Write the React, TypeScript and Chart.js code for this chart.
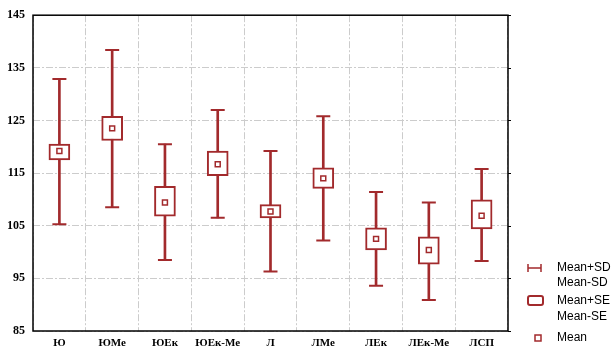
import React, { useEffect, useRef } from "react";
import { Chart, registerables } from "chart.js";

Chart.register(...registerables);

const categories = ["Ю", "ЮМе", "ЮЕк", "ЮЕк-Ме", "Л", "ЛМе", "ЛЕк", "ЛЕк-Ме", "ЛСП"];
const means = [119.2, 123.5, 109.4, 116.7, 107.7, 114.0, 102.5, 100.4, 106.9];
const seLow = [117.5, 121.2, 106.8, 114.5, 106.5, 112.1, 100.4, 97.7, 104.4];
const seHigh = [120.5, 125.8, 112.5, 119.2, 109.0, 116.0, 104.6, 102.9, 109.9];
const sdLow = [105.3, 108.5, 98.5, 106.5, 96.3, 102.2, 93.6, 90.9, 98.3];
const sdHigh = [132.9, 138.4, 120.5, 127.0, 119.2, 125.8, 111.4, 109.4, 115.8];
const yMin = 85;
const yMax = 145;
const yStep = 10;
const legendItems = ["Mean+SD", "Mean-SD", "Mean+SE", "Mean-SE", "Mean"];

const RED = "#a22a2c";
const GRID = "#cccccc";

const framePlugin = {
  id: "frame",
  afterDraw(chart: any) {
    const { ctx, chartArea } = chart;
    const { left, top, right, bottom } = chartArea;
    ctx.save();
    ctx.strokeStyle = "#000";
    ctx.lineWidth = 1.5;
    ctx.strokeRect(left, top, right - left, bottom - top);
    const y = chart.scales.y;
    ctx.lineWidth = 1;
    y.ticks.forEach((t: any) => {
      const py = Math.round(y.getPixelForValue(t.value)) + 0.5;
      ctx.beginPath();
      ctx.moveTo(right, py);
      ctx.lineTo(right + 3, py);
      ctx.stroke();
    });
    ctx.restore();

    ctx.save();
    ctx.font = "12px 'Liberation Sans', Arial, sans-serif";
    ctx.fillStyle = "#000";
    ctx.textBaseline = "middle";
    ctx.textAlign = "left";
    const tx = 557;
    const ys = [268, 283, 301, 317, 338];
    legendItems.forEach((t, i) => ctx.fillText(t, tx, ys[i]));
    ctx.strokeStyle = RED;
    ctx.lineWidth = 1.5;
    ctx.beginPath();
    ctx.moveTo(528, 264); ctx.lineTo(528, 272);
    ctx.moveTo(541, 264); ctx.lineTo(541, 272);
    ctx.moveTo(528, 268); ctx.lineTo(541, 268);
    ctx.stroke();
    ctx.lineWidth = 2;
    ctx.beginPath();
    ctx.roundRect(528, 296, 15, 9, 2);
    ctx.stroke();
    ctx.lineWidth = 1.5;
    ctx.strokeRect(535, 335, 6, 6);
    ctx.restore();
  },
};

export default function App() {
  const ref = useRef<HTMLCanvasElement>(null);
  useEffect(() => {
    if (!ref.current) return;
    const chart = new Chart(ref.current, {
      type: "bar",
      data: {
        labels: categories,
        datasets: [
          {
            type: "line",
            label: "Mean",
            data: means,
            showLine: false,
            pointStyle: "rect",
            pointRadius: 3.5,
            pointBorderWidth: 1.5,
            pointBackgroundColor: "#fff",
            pointBorderColor: RED,
            borderColor: RED,
            order: 0,
          } as any,
          {
            type: "bar",
            label: "SE",
            data: seLow.map((l, i) => [l, seHigh[i]]),
            backgroundColor: "#fff",
            borderColor: RED,
            borderWidth: 2,
            borderSkipped: false,
            barThickness: 21,
            grouped: false,
            order: 1,
          } as any,
          {
            type: "bar",
            label: "SD",
            data: sdLow.map((l, i) => [l, sdHigh[i]]),
            backgroundColor: RED,
            borderWidth: 0,
            barThickness: 2,
            grouped: false,
            order: 2,
          } as any,
          {
            type: "line",
            label: "SD+",
            data: sdHigh,
            showLine: false,
            pointStyle: "line",
            pointRadius: 7,
            pointBorderWidth: 2,
            pointBorderColor: RED,
            borderColor: RED,
            order: 2,
          } as any,
          {
            type: "line",
            label: "SD-",
            data: sdLow,
            showLine: false,
            pointStyle: "line",
            pointRadius: 7,
            pointBorderWidth: 2,
            pointBorderColor: RED,
            borderColor: RED,
            order: 2,
          } as any,
        ],
      },
      options: {
        responsive: false,
        animation: false,
        events: [],
        layout: { padding: { left: 0, top: 15, right: 104, bottom: 0 } },
        plugins: { legend: { display: false }, tooltip: { enabled: false } },
        scales: {
          x: {
            offset: true,
            grid: { offset: true, color: GRID, lineWidth: 1, drawTicks: false },
            border: { display: false, dash: [7, 2, 2, 2] },
            ticks: {
              color: "#000",
              padding: 6,
              font: { family: "'Liberation Serif', 'Times New Roman', serif", size: 11, weight: "bold" },
            },
            afterFit: (s: any) => { s.height = 16; },
          },
          y: {
            min: yMin,
            max: yMax,
            grid: { color: GRID, lineWidth: 1, drawTicks: false },
            border: { display: false, dash: [7, 2, 2, 2] },
            ticks: {
              stepSize: yStep,
              color: "#000",
              padding: 8,
              font: { family: "'Liberation Serif', 'Times New Roman', serif", size: 12, weight: "bold" },
            },
            afterFit: (s: any) => { s.width = 33; },
          },
        },
      },
      plugins: [framePlugin],
    });
    return () => chart.destroy();
  }, []);
  return (
    <div style={{ position: "absolute", left: 0, top: 0, width: 612, height: 347, background: "#fff" }}>
      <canvas ref={ref} width={612} height={347} />
    </div>
  );
}
